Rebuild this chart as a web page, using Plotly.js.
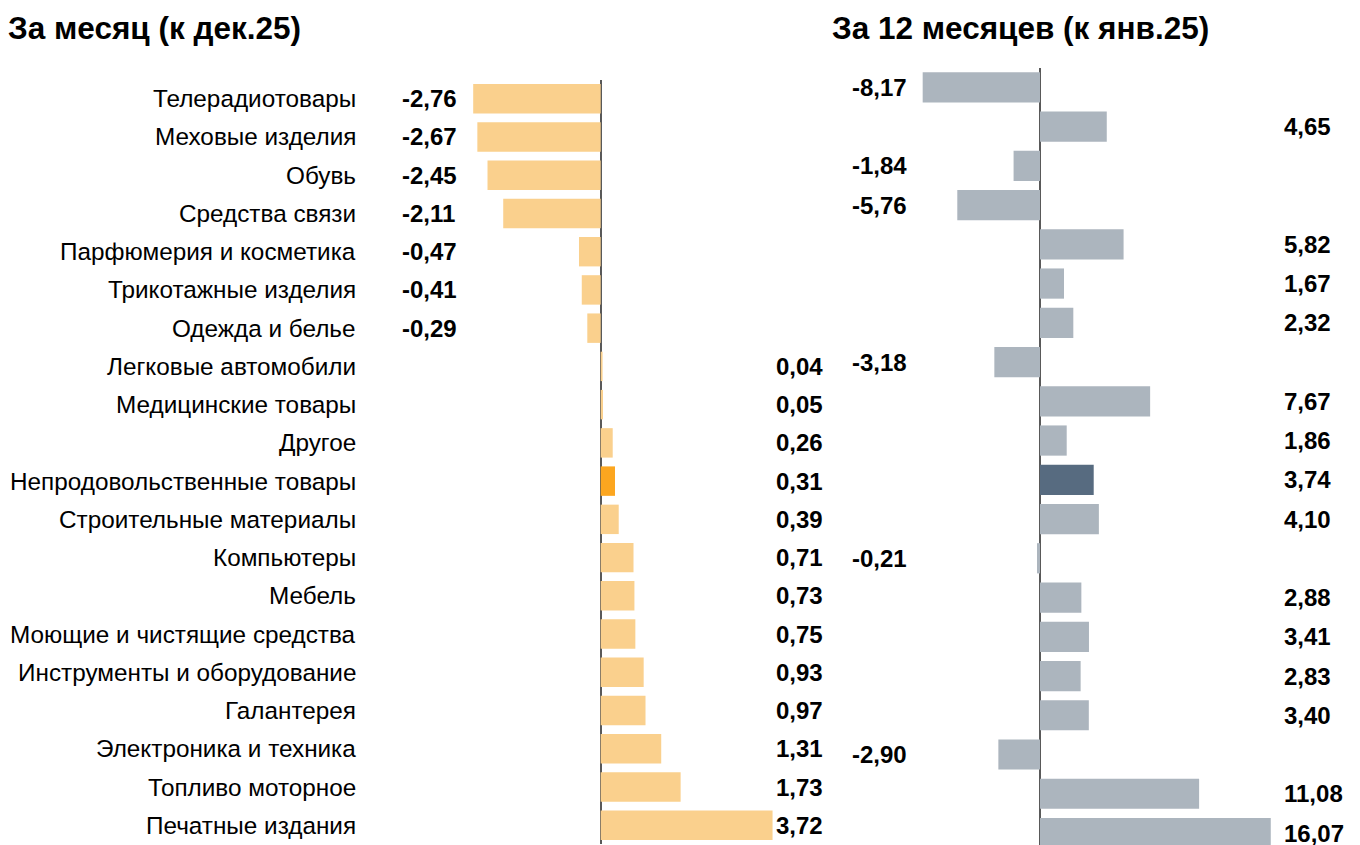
<!DOCTYPE html>
<html>
<head>
<meta charset="utf-8">
<script src="https://cdn.plot.ly/plotly-3.0.1.min.js"></script>
<style>html,body{margin:0;padding:0;background:#fff;}#chart{width:1360px;height:845px;}</style>
</head>
<body>
<div id="chart"></div>
<script>
const categories = [
  "Телерадиотовары","Меховые изделия","Обувь","Средства связи","Парфюмерия и косметика",
  "Трикотажные изделия","Одежда и белье","Легковые автомобили","Медицинские товары","Другое",
  "Непродовольственные товары","Строительные материалы","Компьютеры","Мебель",
  "Моющие и чистящие средства","Инструменты и оборудование","Галантерея",
  "Электроника и техника","Топливо моторное","Печатные издания"
];
const monthValues = [-2.76,-2.67,-2.45,-2.11,-0.47,-0.41,-0.29,0.04,0.05,0.26,0.31,0.39,0.71,0.73,0.75,0.93,0.97,1.31,1.73,3.72];
const yearValues = [-8.17,4.65,-1.84,-5.76,5.82,1.67,2.32,-3.18,7.67,1.86,3.74,4.10,-0.21,2.88,3.41,2.83,3.40,-2.90,11.08,16.07];
const highlight = "Непродовольственные товары";
const titleMonth = "За месяц (к дек.25)";
const titleYear = "За 12 месяцев (к янв.25)";

const W = 1360, H = 845;
const fmt = v => v.toFixed(2).replace('.', ',');
const px = x => x / W;

const monthColors = categories.map(c => c === highlight ? '#FCA61F' : '#FAD08D');
const yearColors = categories.map(c => c === highlight ? '#576B80' : '#ACB5BE');

const traces = [
  {type:'bar', orientation:'h', y:categories, x:monthValues, xaxis:'x', yaxis:'y',
   marker:{color:monthColors}, width:0.77, hoverinfo:'none'},
  {type:'bar', orientation:'h', y:categories, x:yearValues, xaxis:'x2', yaxis:'y2',
   marker:{color:yearColors}, width:0.77, hoverinfo:'none'}
];

const ann = [];
const font = {family:'Liberation Sans, Arial, sans-serif', color:'#000'};
categories.forEach((c, i) => {
  ann.push({xref:'paper', yref:'y', x:px(358), y:c, text:c, showarrow:false, xanchor:'right', yanchor:'middle',
    font:Object.assign({}, font, {size:24.3})});
  const mv = monthValues[i];
  ann.push({xref:'paper', yref:'y', x:px(mv < 0 ? 400 : 774), y:c, text:'<b>'+fmt(mv)+'</b>', showarrow:false,
    xanchor:'left', yanchor:'middle', font:Object.assign({}, font, {size:24})});
  const yv = yearValues[i];
  ann.push({xref:'paper', yref:'y2', x:px(yv < 0 ? 850 : 1282), y:c, text:'<b>'+fmt(yv)+'</b>', showarrow:false,
    xanchor:'left', yanchor:'middle', font:Object.assign({}, font, {size:24})});
});
ann.push({xref:'paper', yref:'paper', x:px(6), y:(H-28)/H, text:'<b>'+titleMonth+'</b>', showarrow:false,
  xanchor:'left', yanchor:'middle', font:Object.assign({}, font, {size:31.5})});
ann.push({xref:'paper', yref:'paper', x:px(830), y:(H-28)/H, text:'<b>'+titleYear+'</b>', showarrow:false,
  xanchor:'left', yanchor:'middle', font:Object.assign({}, font, {size:31.5})});

const x1L = 360, x1R = 830, zero1 = 600.7, s1 = 46.2;
const x2L = 840, x2R = 1360, zero2 = 1040, s2 = 14.36;

const axBase = {showgrid:false, showticklabels:false, ticks:'', showline:false,
  zeroline:true, zerolinecolor:'#595959', zerolinewidth:2, fixedrange:true};

const layout = {
  width:W, height:H, margin:{l:0, r:0, t:0, b:0}, showlegend:false,
  paper_bgcolor:'#fff', plot_bgcolor:'rgba(0,0,0,0)',
  xaxis:Object.assign({}, axBase, {domain:[px(x1L), px(x1R)], anchor:'y',
    range:[(x1L-zero1)/s1, (x1R-zero1)/s1]}),
  xaxis2:Object.assign({}, axBase, {domain:[px(x2L), px(x2R)], anchor:'y2',
    range:[(x2L-zero2)/s2, (x2R-zero2)/s2]}),
  yaxis:{domain:[(H-844.4)/H, (H-79.6)/H], range:[19.5, -0.5], type:'category',
    categoryorder:'array', categoryarray:categories, showticklabels:false, showgrid:false, zeroline:false, ticks:'', anchor:'x'},
  yaxis2:{domain:[0, (H-67.7)/H], range:[19 + (H-833)/39.25, -0.5], type:'category',
    categoryorder:'array', categoryarray:categories, showticklabels:false, showgrid:false, zeroline:false, ticks:'', anchor:'x2'},
  annotations:ann
};

Plotly.newPlot('chart', traces, layout, {staticPlot:true, displayModeBar:false});
</script>
</body>
</html>
